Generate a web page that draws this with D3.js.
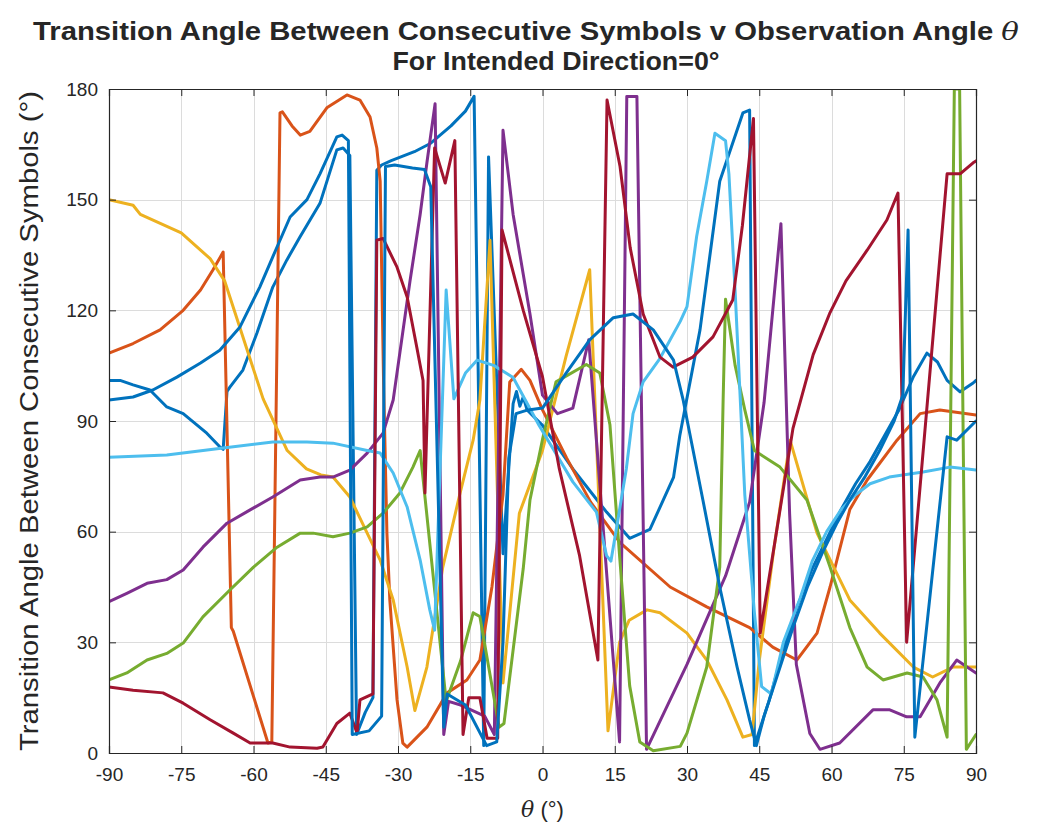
<!DOCTYPE html>
<html>
<head>
<meta charset="utf-8">
<script src="https://cdn.jsdelivr.net/npm/d3@7"></script>
<style>
  body { margin: 0; background: #fff; }
  text { font-family: "Liberation Sans", Arial, Helvetica, sans-serif; fill: #262626; }
</style>
</head>
<body>
<svg id="chart" width="1048" height="840"></svg>
<script>
// Axis ticks
const xTicks = [-90, -75, -60, -45, -30, -15, 0, 15, 30, 45, 60, 75, 90];
const yTicks = [0, 30, 60, 90, 120, 150, 180];

// Transition angle (deg) vs observation angle theta (deg), one array per symbol pair
const pair1 = [[-90,101],[-87.7,101],[-85,99.8],[-81.5,98.4],[-78,93.8],[-74.6,92],[-69.7,86.7],[-67,83],[-66.3,82.3],[-65.5,98],[-64.9,99.2],[-62.2,103.8],[-59.3,113.8],[-56,126.3],[-53.1,133.6],[-50.3,140],[-46.2,149],[-42.7,163.5],[-41.4,164],[-40,162],[-38.6,5],[-36.8,11],[-35.2,15],[-34.4,158],[-33.4,159.4],[-31.4,160.6],[-26.6,163],[-23.2,165.3],[-19,170],[-16,174],[-14.2,178],[-12.2,2],[-11.2,161.6],[-8.2,54],[-6.1,94.7],[-5.4,98],[-4.7,94],[-4,96.5],[-3.2,93],[0,88.8],[6.3,77],[13.3,65.3],[18.1,58.2],[22.3,60.6],[27.2,74.7],[28.5,86],[32.7,114.7],[36.8,155],[41.6,173.5],[43,174.3],[44,2],[47,14],[50,28],[53,40],[56,50],[59,58],[62,66],[65,73],[68,79],[71,86],[74,93],[77,102],[79.8,108.4],[82,106],[84,101],[86.7,97.9],[89.4,100.3],[90,101]];

const pair2 = [[-90,108.4],[-85,111],[-79.4,114.7],[-74.6,120],[-71,125.5],[-68.4,131],[-66.3,135.8],[-64.6,34],[-64.2,33],[-57,2.7],[-56.2,3],[-54.5,173.5],[-54,173.8],[-52,170],[-50.3,167.5],[-48.3,168.5],[-44.7,175],[-40.6,178.4],[-37.9,177],[-35.8,172.4],[-34.4,164],[-33.7,155],[-33,101],[-32.3,59.6],[-31.7,41.5],[-30.2,14.4],[-29,2.7],[-28.1,1.6],[-24,7],[-19.8,16.3],[-15.7,19.8],[-13,25.2],[-10.5,45],[-8.2,70],[-6.8,100.6],[-4.4,104],[-2.6,101],[0,93],[5,80],[10,68],[16.1,57],[26.5,45],[34.1,39.6],[43,34],[47.8,28.7],[52.8,25.2],[57,32.5],[59.7,45],[63.8,66],[67.4,74],[73.6,84.8],[78.4,92],[82.5,93],[90,91.6]];

const pair3 = [[-90,150],[-85,148.5],[-83.5,146],[-75,141],[-69,134],[-66,128],[-61.5,110],[-58,96],[-53,82],[-49,77],[-46,75.4],[-43.5,74.8],[-40,69.4],[-36.4,59.6],[-33.7,52.3],[-31,41.5],[-28.1,23.3],[-26.5,11.5],[-24,23.3],[-20.7,50.4],[-17.1,70.5],[-14.4,84.8],[-13,95.7],[-10.9,139],[-8.2,19],[-4.8,65],[0,82],[4.9,107.6],[9.8,131],[13.6,6],[16,30],[18,36],[21.7,38.8],[24.4,38],[30,32.5],[34.1,25.2],[38.3,14.4],[41.6,4.3],[43.5,5],[45,25],[48,55],[51.4,84.8],[57,59.6],[63.8,41.5],[70,32.5],[77,23.3],[81,20.6],[85.2,23.3],[90,23.3]];

const pair4 = [[-90,41],[-86.3,43.3],[-82.1,46],[-78,47],[-74.6,49.6],[-70.5,55.8],[-65.5,62.3],[-60.7,65.9],[-56,69.4],[-50.3,74],[-46.2,74.8],[-43.5,74.8],[-40,76.7],[-36.4,81.3],[-33.1,86.7],[-31,95.7],[-27.5,128],[-25.4,146],[-24,160],[-22.3,176],[-20.5,5],[-19.5,14],[-17,13],[-12,10],[-10,5],[-8.2,168.8],[-6.1,146],[-2.6,119],[0,97],[3.1,92],[6.3,93.5],[9.6,112],[16,3],[17.5,178],[19.6,178],[21.6,1],[30,24],[38,48],[43,68],[46,95],[49.5,143.5],[51.3,65],[52.7,24],[55.5,5.3],[57.6,1],[61.7,2.7],[68.6,11.7],[72.1,11.7],[75.6,9.8],[78.4,9.8],[82.5,19],[86,25.2],[90,21.7]];

const pair5 = [[-90,19.8],[-86.3,21.7],[-82.1,25.2],[-78,27],[-74.6,29.8],[-70.5,36.9],[-64.9,44.2],[-60,50.4],[-55.1,55.8],[-50.3,59.6],[-47.6,59.6],[-43.5,58.6],[-40,59.6],[-36.4,61.3],[-33.1,65],[-29.6,70.5],[-26.9,77.5],[-25.4,82],[-20,14],[-17,25],[-14.4,38],[-13,37],[-9,7],[-8,8],[-4,50],[-2.6,68.6],[0,85],[2.8,100.6],[9.1,105.3],[11.9,103],[14,89],[16,53.5],[18.1,18.2],[20.2,3],[23,0.6],[28.6,1.8],[30,5.4],[34.1,23.3],[36.8,50.4],[37.5,95.7],[38,123],[40,105],[42,93],[44,82],[49.3,77.5],[54.9,68.6],[59.7,50.4],[63.8,34],[67.4,23.3],[70.7,19.8],[75.7,21.7],[79,20.6],[81.9,14.4],[84,4.3],[85.5,180],[86.6,180],[88,1],[90,5]];

const pair6 = [[-90,80.2],[-78,80.8],[-66.3,82.7],[-56,84.3],[-48.9,84.3],[-43.5,84],[-36.4,82],[-33.7,81.3],[-31,75.9],[-28.1,66.7],[-25.4,52.3],[-23.4,38.8],[-22.4,33.3],[-20,125.5],[-18.4,96],[-16,103],[-13.6,106.5],[-10,105],[-6.1,101.8],[-0.7,88.8],[6.3,73.5],[11.2,65.3],[13.3,53.5],[14.2,52],[15.5,62],[17.4,77],[18.8,92],[20.9,100.6],[24.4,107],[28.6,117],[30,121],[32,140],[34.1,155],[35.8,168],[38,166],[38.7,157],[40,125],[42,70],[44,38],[45.5,18],[47.5,16],[50,30],[53.5,42],[56,52],[59,60],[62,66],[65,70],[68,73],[72,74.8],[79,76.2],[84.6,77.5],[90,76.7]];

const pair7 = [[-90,17.9],[-85,17],[-78.8,16.3],[-74.6,13.5],[-69,9],[-64.2,5.4],[-60.7,2.7],[-56,2.7],[-52.4,1.6],[-46.8,1.3],[-45.6,1.6],[-42.7,8],[-40,10.8],[-38.5,5.4],[-37.9,14.4],[-35.2,16],[-34.4,139],[-33.1,139.5],[-30.2,131.7],[-28.1,123.6],[-26.1,110],[-24.8,101],[-24.4,70.5],[-22.4,164],[-20.2,154.5],[-18.2,166],[-16.5,5],[-15.3,15],[-13,15],[-11.5,4],[-9.3,4],[-8.4,141.8],[-4,120],[0,102],[3.5,77],[7.7,53.5],[11.5,25.2],[13.4,177],[16.1,159],[18.2,137],[20.9,119],[24.4,107.3],[27.1,104.6],[31.2,107.3],[35.4,112.8],[39.5,122.8],[41.5,143],[43.8,172],[45.2,32.5],[49.2,65],[52,88],[56.2,108],[59.7,119.4],[63,128],[67.4,136.3],[71.5,144.5],[73.8,151.8],[75.6,30],[84,157],[86.7,157],[89.4,160],[90,160.5]];

const pair8 = [[-90,95.7],[-85,96.5],[-80.9,98.4],[-75.9,101.9],[-71,105.7],[-67,109.2],[-62.8,115.5],[-58.7,126.3],[-56,134.5],[-52.4,145.3],[-48.9,150],[-46.2,157],[-42.7,167],[-41.6,167.5],[-40.3,166],[-39.5,5],[-36,6],[-33.4,10],[-32.6,159],[-30.7,159.4],[-27,158.6],[-24.5,158.2],[-23.2,153.5],[-20.5,7],[-19.8,16],[-16,13],[-11.6,2],[-9.5,3],[-8.2,30],[-7,80],[-5.5,92],[-3,93],[0,93.5],[4.9,103],[9.8,112],[14.7,118],[18.8,119],[23,114.7],[27.2,106.5],[29.2,95.7],[33.3,68.6],[36.8,45],[40.4,23.3],[43,9],[44.4,2],[46,10],[49,22],[52,34],[55,45],[58,54],[61,62],[64,69],[67,75],[70,82],[73,90],[74.8,97],[75.9,141.8],[77.3,4.3],[84,85.7],[86,84.8],[90,90]];

// Default colour order, reused for the eighth line
const lineColors = ["#0072BD", "#D95319", "#EDB120", "#7E2F8E", "#77AC30", "#4DBEEE", "#A2142F", "#0072BD"];
const allPairs = [pair1, pair2, pair3, pair4, pair5, pair6, pair7, pair8];

const svg = d3.select("#chart");
const plot = { left: 109, right: 976, top: 89, bottom: 753 };

const x = d3.scaleLinear().domain([-90, 90]).range([plot.left, plot.right]);
const y = d3.scaleLinear().domain([0, 180]).range([plot.bottom, plot.top]);

// Grid
const grid = svg.append("g").attr("stroke", "#dcdcdc").attr("stroke-width", 1);
grid.selectAll("line.gx").data(xTicks.slice(1, -1)).join("line")
  .attr("x1", d => Math.round(x(d)) + 0.5).attr("x2", d => Math.round(x(d)) + 0.5)
  .attr("y1", plot.top).attr("y2", plot.bottom);
grid.selectAll("line.gy").data(yTicks.slice(1, -1)).join("line")
  .attr("y1", d => Math.round(y(d)) + 0.5).attr("y2", d => Math.round(y(d)) + 0.5)
  .attr("x1", plot.left).attr("x2", plot.right);

// Lines
svg.append("clipPath").attr("id", "plotClip").append("rect")
  .attr("x", plot.left).attr("y", plot.top)
  .attr("width", plot.right - plot.left).attr("height", plot.bottom - plot.top);

const line = d3.line().x(d => x(d[0])).y(d => y(d[1]));
const lines = svg.append("g").attr("clip-path", "url(#plotClip)");
allPairs.forEach((pts, i) => {
  lines.append("path")
    .datum(pts)
    .attr("fill", "none")
    .attr("stroke", lineColors[i])
    .attr("stroke-width", 3)
    .attr("stroke-linejoin", "round")
    .attr("stroke-linecap", "round")
    .attr("d", line);
});

// Axes (box with inward ticks)
const fmt = d => String(d);
const tickLen = 7;
const axB = svg.append("g").attr("transform", `translate(0,${plot.bottom})`)
  .call(d3.axisBottom(x).tickValues(xTicks).tickSize(-tickLen).tickPadding(15).tickFormat(fmt));
const axT = svg.append("g").attr("transform", `translate(0,${plot.top})`)
  .call(d3.axisTop(x).tickValues(xTicks).tickSize(-tickLen).tickFormat(""));
const axL = svg.append("g").attr("transform", `translate(${plot.left},0)`)
  .call(d3.axisLeft(y).tickValues(yTicks).tickSize(-tickLen).tickPadding(11).tickFormat(fmt));
const axR = svg.append("g").attr("transform", `translate(${plot.right},0)`)
  .call(d3.axisRight(y).tickValues(yTicks).tickSize(-tickLen).tickFormat(""));
[axB, axT, axL, axR].forEach(g => {
  g.select(".domain").attr("stroke", "#262626").attr("stroke-width", 1.2);
  g.selectAll(".tick line").attr("stroke", "#262626").attr("stroke-width", 1);
  g.selectAll(".tick text").attr("fill", "#262626")
    .style("font-family", '"Liberation Sans", Arial, sans-serif').style("font-size", "19px");
});

// Axis labels
const xl = svg.append("text").attr("x", x(0)).attr("y", 817).attr("text-anchor", "middle")
  .style("font-size", "22px");
xl.append("tspan").style("font-style", "italic").style("font-family", '"DejaVu Serif", "Liberation Serif", serif').text("θ");
xl.append("tspan").text(" (°)");

svg.append("text")
  .attr("transform", `translate(38,${(plot.top + plot.bottom) / 2}) rotate(-90)`)
  .attr("text-anchor", "middle")
  .attr("textLength", 660)
  .attr("lengthAdjust", "spacingAndGlyphs")
  .style("font-size", "25px")
  .text("Transition Angle Between Consecutive Symbols (°)");

// Title
const t1 = svg.append("text").attr("x", 526).attr("y", 40).attr("text-anchor", "middle")
  .attr("textLength", 986).attr("lengthAdjust", "spacingAndGlyphs")
  .style("font-size", "25px").style("font-weight", "bold");
t1.append("tspan").text("Transition Angle Between Consecutive Symbols v Observation Angle ");
t1.append("tspan").style("font-style", "italic").style("font-weight", "normal")
  .style("font-family", '"DejaVu Serif", "Liberation Serif", serif').text("θ");
svg.append("text").attr("x", 556).attr("y", 70).attr("text-anchor", "middle")
  .attr("textLength", 327).attr("lengthAdjust", "spacingAndGlyphs")
  .style("font-size", "25px").style("font-weight", "bold")
  .text("For Intended Direction=0°");
</script>
</body>
</html>
